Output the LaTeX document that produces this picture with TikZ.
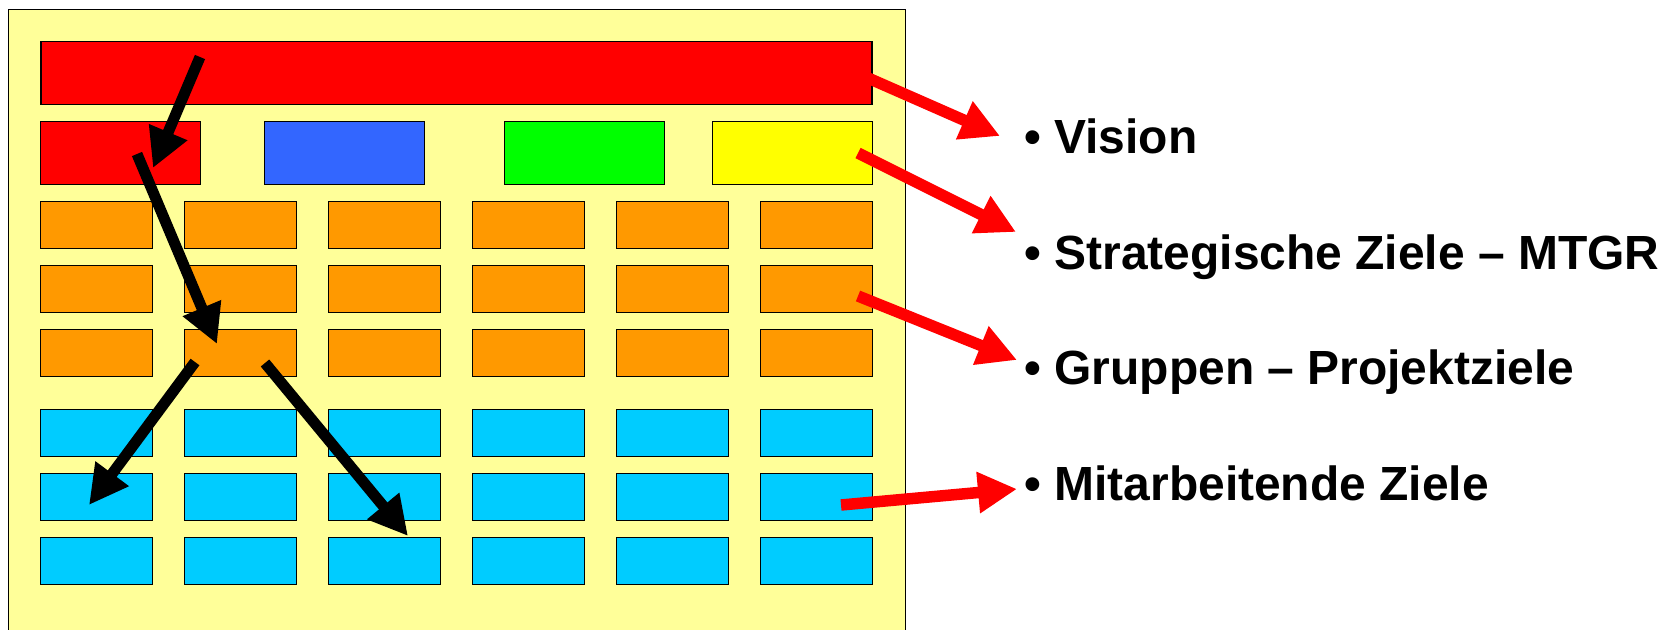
\documentclass[tikz,border=0pt]{standalone}
\usepackage{fontspec}
\setmainfont{Liberation Sans}
\usetikzlibrary{arrows.meta}
\definecolor{panel}{HTML}{FFFF99}
\definecolor{visred}{HTML}{FF0000}
\definecolor{stblue}{HTML}{3366FF}
\definecolor{stgreen}{HTML}{00FF00}
\definecolor{styellow}{HTML}{FFFF00}
\definecolor{grporange}{HTML}{FF9900}
\definecolor{mitcyan}{HTML}{00CCFF}
\tikzset{goal/.style={draw,line width=0.026cm,inner sep=0pt,minimum width=2.234cm,minimum height=0.95cm},
	 sgoal/.style={goal,minimum width=3.19cm,minimum height=1.26cm},
	 cascade/.style={line width=0.22cm,-{Triangle[length=0.78cm,width=0.78cm]}},
	 pointer/.style={cascade,visred,line width=0.23cm},
	 entry/.style={anchor=base west,inner sep=0pt,font=\bfseries\fontsize{27.3pt}{32pt}\selectfont}
	 }

\begin{document}
\begin{tikzpicture}[x=0.02cm,y=-0.02cm] % Zielkaskade
	\useasboundingbox (0,0) rectangle (1676,629);
	\draw[fill=panel,line width=0.03cm] (8.5,9.5) rectangle (905.5,700);
	\node[goal,fill=visred,minimum width=16.62cm,minimum height=1.26cm] (vis) at (456.5,73) {};
	\node[sgoal,fill=visred] (s1) at (120.5,153) {};
	\node[sgoal,fill=stblue] (s2) at (344.5,153) {};
	\node[sgoal,fill=stgreen] (s3) at (584.5,153) {};
	\node[sgoal,fill=styellow] (s4) at (792.5,153) {};
	\foreach \r/\y in {1/225,2/289,3/353}
		\foreach \c in {1,...,6}
			\node[goal,fill=grporange] (g\r\c) at ({96.5+144*(\c-1)},\y) {};
	\foreach \r/\y in {1/433,2/497,3/561}
		\foreach \c in {1,...,6}
			\node[goal,fill=mitcyan,minimum height=0.934cm] (m\r\c) at ({96.5+144*(\c-1)},\y) {};
	% black cascade arrows
	\coordinate (b1) at (200,57); \coordinate (b2) at (153,168);
	\coordinate (b3) at (137,154); \coordinate (b4) at (217,344);
	\coordinate (b5) at (195,362); \coordinate (b6) at (89,505);
	\coordinate (b7) at (265,363); \coordinate (b8) at (408,536);
	\draw[cascade] (b1) -- (b2);
	\draw[cascade] (b3) -- (b4);
	\draw[cascade] (b5) -- (b6);
	\draw[cascade] (b7) -- (b8);
	% labels
	\node[entry] (t1) at (1024,153) {• Vision};
	\node[entry] (t2) at (1024,269) {• Strategische Ziele – MTGR};
	\node[entry] (t3) at (1024,384) {• Gruppen – Projektziele};
	\node[entry] (t4) at (1024,500) {• Mitarbeitende Ziele};
	% red pointers
	\coordinate (r1) at (868,78); \coordinate (r2) at (1000,136);
	\coordinate (r3) at (858,153); \coordinate (r4) at (1016,232);
	\coordinate (r5) at (858,296); \coordinate (r6) at (1017,360);
	\coordinate (r7) at (841,505); \coordinate (r8) at (1017,489);
	\draw[pointer] (r1) -- (r2);
	\draw[pointer] (r3) -- (r4);
	\draw[pointer] (r5) -- (r6);
	\draw[pointer] (r7) -- (r8);
\end{tikzpicture}
\end{document}
